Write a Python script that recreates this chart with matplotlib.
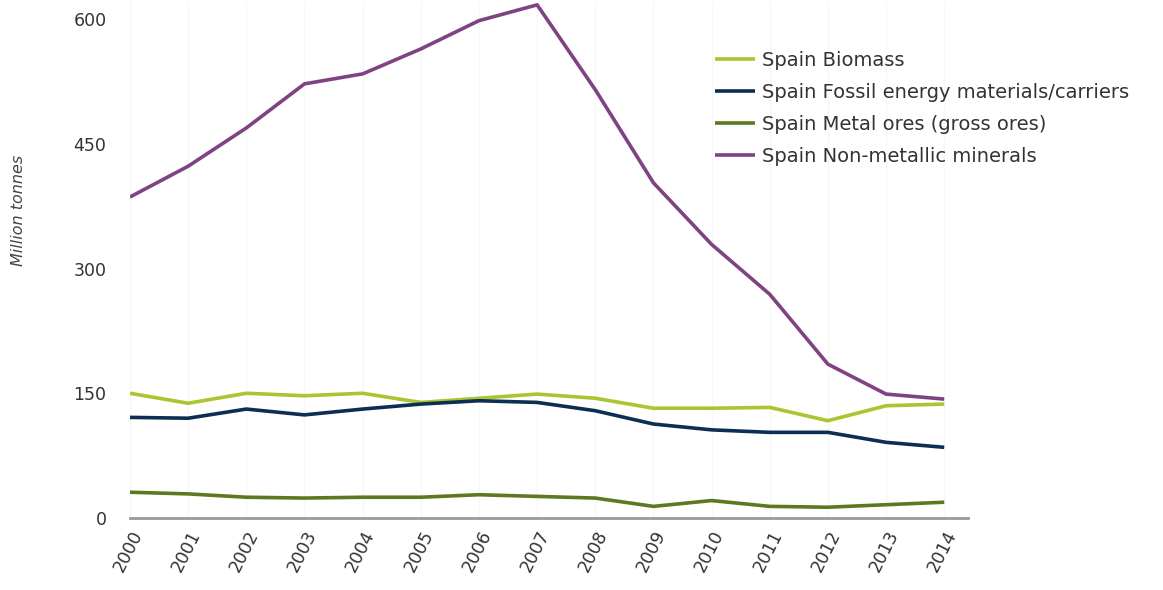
import matplotlib
matplotlib.use("Agg")
import matplotlib.pyplot as plt

years = list(range(2000, 2015))
biomass = [150, 138, 150, 147, 150, 139, 144, 149, 144, 132, 132, 133, 117, 135, 137]
fossil = [121, 120, 131, 124, 131, 137, 141, 139, 129, 113, 106, 103, 103, 91, 85]
metal = [31, 29, 25, 24, 25, 25, 28, 26, 24, 14, 21, 14, 13, 16, 19]
nonmetal = [386, 423, 469, 522, 534, 564, 598, 617, 515, 403, 329, 269, 185, 149, 143]

series_labels = ["Spain Biomass", "Spain Fossil energy materials/carriers",
                 "Spain Metal ores (gross ores)", "Spain Non-metallic minerals"]
colors = ["#a9c52f", "#0c2e52", "#5e7821", "#7f4283"]
yticks = [0, 150, 300, 450, 600]

plt.rcParams['font.family'] = ['Verdana', 'DejaVu Sans']
fig = plt.figure(figsize=(11.63, 5.9), dpi=100)
ax = fig.add_axes([0.1118, 0.122, 0.7206, 0.874])

for vals, c, lab in zip([biomass, fossil, metal, nonmetal], colors, series_labels):
    ax.plot(years, vals, color=c, lw=2.6, label=lab, solid_capstyle='butt')

ax.set_xlim(2000, 2014.41)
ax.set_ylim(0, 620)
ax.set_yticks(yticks)
ax.set_xticks(years)
ax.set_xticklabels([str(y) for y in years], rotation=63, ha='right',
                   rotation_mode='anchor', fontsize=12.5, color='#333333')
ax.tick_params(axis='y', length=0, pad=17, labelsize=12.5, labelcolor='#333333')
ax.tick_params(axis='x', length=0, pad=7)
for s in ['top', 'right', 'left']:
    ax.spines[s].set_visible(False)
ax.spines['bottom'].set_color('#999999')
ax.spines['bottom'].set_linewidth(2)
ax.grid(axis='x', color='#f7f7f7', lw=1)
ax.set_axisbelow(True)

fig.text(0.016, 0.644, "Million tonnes", rotation=90, style='italic',
         fontsize=11.5, color='#444444', ha='center', va='center')

leg = fig.legend(loc='upper left', bbox_to_anchor=(0.6, 0.944), frameon=False,
                 fontsize=14, handlelength=2.06, handletextpad=0.36,
                 labelspacing=0.68, labelcolor='#333333')

fig.savefig("out.png", dpi=100)
